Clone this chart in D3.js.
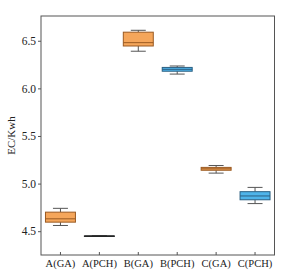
<!DOCTYPE html>
<html><head><meta charset="utf-8">
<script src="https://cdn.jsdelivr.net/npm/d3@7"></script>
<style>body{margin:0;background:#fff}svg{display:block}</style>
</head><body>
<svg id="c" width="298" height="278"></svg>
<script>
const categories = ["A(GA)","A(PCH)","B(GA)","B(PCH)","C(GA)","C(PCH)"];
const whiskerLow  = [4.56, 4.45, 6.39, 6.15, 5.11, 4.79];
const q1          = [4.595,4.45, 6.445,6.18, 5.14, 4.83];
const median      = [4.63, 4.45, 6.48, 6.20, 5.155,4.87];
const q3          = [4.70, 4.45, 6.59, 6.22, 5.17, 4.915];
const whiskerHigh = [4.74, 4.45, 6.61, 6.235,5.19, 4.96];
const groups      = ["GA","PCH","GA","PCH","GA","PCH"];
const yTicks = [4.5, 5.0, 5.5, 6.0, 6.5];

const fills = {GA:"#F5A65B", PCH:"#4FB4EA"};
const edges = {GA:"#9A5A22", PCH:"#2B5F82"};

const svg = d3.select("#c");
const m = {l:41, r:23.5, t:16, b:23};
const W = 298, H = 278;
const x = d3.scaleBand().domain(categories).range([m.l, W-m.r]).paddingInner(0.23).paddingOuter(0.115);
const y = d3.scaleLinear().domain([4.25, 6.76]).range([H-m.b, m.t]);

svg.append("rect").attr("x",m.l).attr("y",m.t).attr("width",W-m.r-m.l).attr("height",H-m.b-m.t)
  .attr("fill","none").attr("stroke","#555").attr("stroke-width",1);

const font = "'Liberation Serif','Times New Roman',serif";
const ya = svg.append("g").attr("transform",`translate(${m.l},0)`)
  .call(d3.axisLeft(y).tickValues(yTicks).tickFormat(d3.format(".1f")).tickSize(3).tickPadding(2));
ya.select(".domain").remove();
ya.selectAll("line").attr("stroke","#555");
ya.selectAll("text").attr("font-family",font).attr("font-size",11.5).attr("fill","#222");

const xa = svg.append("g").attr("transform",`translate(0,${H-m.b})`)
  .call(d3.axisBottom(x).tickSize(3).tickPadding(2));
xa.select(".domain").remove();
xa.selectAll("line").attr("stroke","#555").attr("transform","translate(0,-3)");
xa.selectAll("text").attr("font-family",font).attr("font-size",10.5).attr("fill","#222");

svg.append("text").attr("transform",`translate(15,${(m.t+H-m.b)/2}) rotate(-90)`)
  .attr("text-anchor","middle").attr("font-family",font).attr("font-size",11).attr("fill","#222").text("EC/Kwh");

const bw = x.bandwidth();
categories.forEach((c,i)=>{
  const cx = x(c)+bw/2, g = svg.append("g"), grp = groups[i];
  g.append("line").attr("x1",cx).attr("x2",cx).attr("y1",y(whiskerLow[i])).attr("y2",y(q1[i])).attr("stroke","#555").attr("stroke-width",1);
  g.append("line").attr("x1",cx).attr("x2",cx).attr("y1",y(q3[i])).attr("y2",y(whiskerHigh[i])).attr("stroke","#555").attr("stroke-width",1);
  [whiskerLow[i], whiskerHigh[i]].forEach(v=>{
    g.append("line").attr("x1",cx-bw/4).attr("x2",cx+bw/4).attr("y1",y(v)).attr("y2",y(v)).attr("stroke","#555").attr("stroke-width",1);
  });
  const top = y(q3[i]), bot = y(q1[i]);
  const flat = bot - top < 0.5;
  g.append("rect").attr("x",x(c)).attr("y",top).attr("width",bw).attr("height",Math.max(bot-top,0.5))
    .attr("fill",fills[grp]).attr("stroke",flat ? "#222" : edges[grp]).attr("stroke-width",1);
  g.append("line").attr("x1",x(c)).attr("x2",x(c)+bw).attr("y1",y(median[i])).attr("y2",y(median[i]))
    .attr("stroke",flat ? "#222" : edges[grp]).attr("stroke-width",1);
});
</script>
</body></html>
